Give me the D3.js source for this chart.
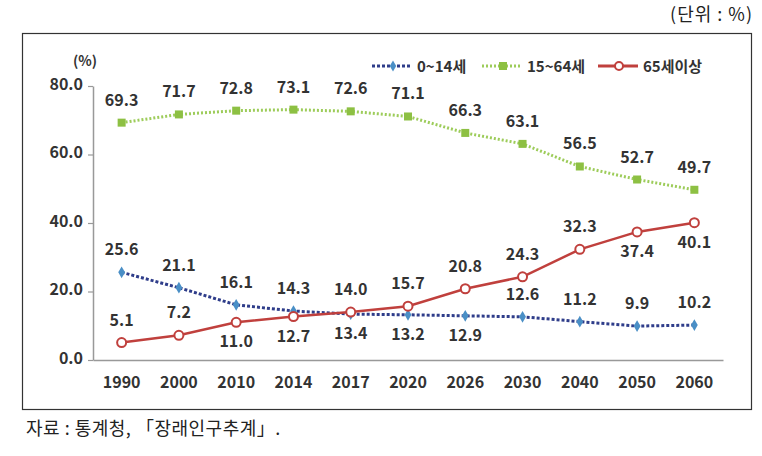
<!DOCTYPE html>
<html><head><meta charset="utf-8">
<script src="https://cdn.jsdelivr.net/npm/d3@7"></script>
<style>body{margin:0;background:#fff}svg{display:block}</style>
</head><body>
<script>
const years = ["1990","2000","2010","2014","2017","2020","2026","2030","2040","2050","2060"];
const child = [25.6,21.1,16.1,14.3,13.4,13.2,12.9,12.6,11.2,9.9,10.2];
const working = [69.3,71.7,72.8,73.1,72.6,71.1,66.3,63.1,56.5,52.7,49.7];
const elderly = [5.1,7.2,11.0,12.7,14.0,15.7,20.8,24.3,32.3,37.4,40.1];
const childLabelPos = [-1,-1,-1,-1,1,1,1,-1,-1,-1,-1];
const workingLabelPos = [-1,-1,-1,-1,-1,-1,-1,-1,-1,-1,-1];
const elderlyLabelPos = [-1,-1,1,1,-1,-1,-1,-1,-1,1,1];
const yTicks = [0,20,40,60,80];
const seriesNames = ["0~14세","15~64세","65세이상"];

const W=762,H=456;
const svg=d3.select("body").append("svg").attr("width",W).attr("height",H);
const font="'Noto Sans CJK KR','Noto Sans',sans-serif";
const nfont="'Liberation Sans Narrow','Noto Sans CJK KR',sans-serif";

svg.append("text").attr("x",753).attr("y",21).attr("text-anchor","end")
  .attr("font-family",font).attr("font-size",18).attr("letter-spacing",1).attr("fill","#222").text("(단위 : %)");
svg.append("rect").attr("x",22.5).attr("y",33.5).attr("width",729).attr("height",376)
  .attr("fill","none").attr("stroke","#333").attr("stroke-width",1.2);
svg.append("text").attr("x",26).attr("y",435).attr("font-family",font).attr("font-size",18)
  .attr("letter-spacing",0.5).attr("fill","#222").text("자료 : 통계청, 「장래인구추계」.");

const x=d3.scaleBand().domain(years).range([93,723]);
const y=d3.scaleLinear().domain([0,80]).range([360,86]);
const cx=d=>x(d)+x.bandwidth()/2;

// axes
const ya=svg.append("g").attr("transform","translate(93,0)")
  .call(d3.axisLeft(y).tickValues(yTicks).tickFormat(d3.format(".1f")).tickSize(5).tickSizeOuter(0));
ya.select(".domain").attr("stroke","#999").attr("stroke-width",1.5);
ya.selectAll(".tick line").attr("stroke","#999").attr("stroke-width",1.2);
ya.selectAll("text").attr("font-family",nfont).attr("font-size",16).attr("font-weight","bold").attr("fill","#333").attr("x",-10).attr("dy","0.2em");
const xa=svg.append("g").attr("transform","translate(0,360)")
  .call(d3.axisBottom(x).tickSize(0).tickSizeOuter(0));
xa.select(".domain").attr("stroke","#999").attr("stroke-width",1.5);
xa.selectAll("text").attr("font-family",nfont).attr("font-size",16).attr("font-weight","bold").attr("fill","#333").attr("dy","1.55em");
svg.append("text").attr("x",73).attr("y",66).attr("font-family",nfont).attr("font-size",14)
  .attr("font-weight","bold").attr("fill","#333").text("(%)");

const line=d3.line().x((d,i)=>cx(years[i])).y(d=>y(d));
function drawSeries(vals,pos,color,dash,width,marker,mcolor){
  const g=svg.append("g");
  g.append("path").datum(vals).attr("d",line).attr("fill","none").attr("stroke",color)
    .attr("stroke-width",width).attr("stroke-dasharray",dash);
  vals.forEach((v,i)=>{
    const px=cx(years[i]),py=y(v);
    if(marker==="diamond") g.append("path").attr("d",d3.symbol(d3.symbolDiamond,40)()).attr("transform",`translate(${px},${py})`).attr("fill",mcolor);
    else if(marker==="square") g.append("rect").attr("x",px-4).attr("y",py-4).attr("width",8).attr("height",8).attr("fill",mcolor);
    else g.append("circle").attr("cx",px).attr("cy",py).attr("r",4.5).attr("fill","#fff").attr("stroke",mcolor).attr("stroke-width",2);
    g.append("text").attr("x",px).attr("y",py+(pos[i]<0?-17:25)).attr("text-anchor","middle")
      .attr("font-family",nfont).attr("font-size",16).attr("font-weight","bold").attr("fill","#333").text(v.toFixed(1));
  });
}
drawSeries(child,childLabelPos,"#2f3d8a","3,2",3,"diamond","#4a8fc6");
drawSeries(working,workingLabelPos,"#9dcc5a","2,2",3,"square","#8dc043");
drawSeries(elderly,elderlyLabelPos,"#c0403d",null,2.5,"circle","#c0403d");

// legend
const leg=[{x:372,c:"#2f3d8a",d:"3,2",m:"diamond",mc:"#4a8fc6"},{x:482,c:"#9dcc5a",d:"2,2",m:"square",mc:"#8dc043"},{x:598,c:"#c0403d",d:null,m:"circle",mc:"#c0403d"}];
leg.forEach((l,i)=>{
  const ly=66,g=svg.append("g");
  g.append("line").attr("x1",l.x).attr("x2",l.x+40).attr("y1",ly).attr("y2",ly).attr("stroke",l.c).attr("stroke-width",3).attr("stroke-dasharray",l.d);
  const mx=l.x+21;
  if(l.m==="diamond") g.append("path").attr("d",d3.symbol(d3.symbolDiamond,36)()).attr("transform",`translate(${mx},${ly})`).attr("fill",l.mc);
  else if(l.m==="square") g.append("rect").attr("x",mx-4).attr("y",ly-4).attr("width",8).attr("height",8).attr("fill",l.mc);
  else g.append("circle").attr("cx",mx).attr("cy",ly).attr("r",4).attr("fill","#fff").attr("stroke",l.mc).attr("stroke-width",2);
  g.append("text").attr("x",l.x+45).attr("y",ly+6).attr("font-family",nfont).attr("font-size",15)
    .attr("font-weight","bold").attr("fill","#333").text(seriesNames[i]);
});
</script>
</body></html>
